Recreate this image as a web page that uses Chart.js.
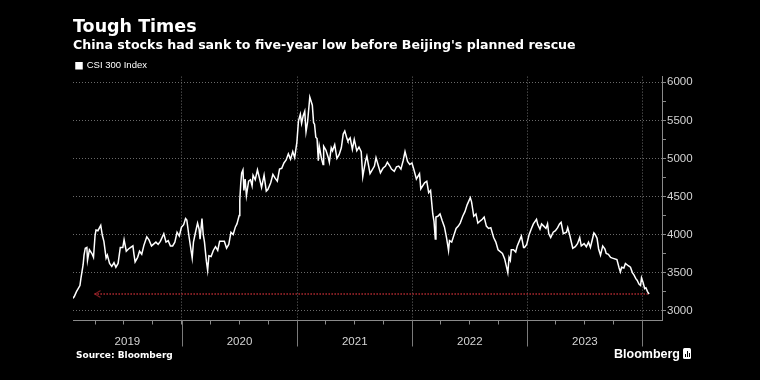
<!DOCTYPE html>
<html><head><meta charset="utf-8">
<script src="https://cdn.jsdelivr.net/npm/chart.js@4.4.1/dist/chart.umd.min.js"></script>
<style>
html,body{margin:0;padding:0;background:#000;}
#wrap{position:relative;width:760px;height:380px;background:#000;overflow:hidden;}
canvas{display:block;}
#source{position:absolute;left:76px;top:349px;font:bold 9px "DejaVu Sans";line-height:12px;color:#fff;white-space:nowrap;}
#logo{position:absolute;left:614px;top:347px;font:bold 12.5px "Liberation Sans";line-height:14px;color:#fff;white-space:nowrap;}
#logo .icon{position:absolute;left:69px;top:1px;width:8px;height:11px;background:#fff;border-radius:1.5px;}
#logo .icon i{position:absolute;bottom:2px;width:1.4px;background:#000;}
</style></head><body>
<div id="wrap"><canvas id="c" width="760" height="380"></canvas>
<div id="source">Source: Bloomberg</div>
<div id="logo">Bloomberg<span class="icon"><i style="left:1.5px;height:3px"></i><i style="left:3.5px;height:6px"></i><i style="left:5.5px;height:4px"></i></span></div>
</div>
<script>
const titleText = 'Tough Times';
const subtitleText = "China stocks had sank to five-year low before Beijing's planned rescue";
const seriesName = 'CSI 300 Index';
const yearLabels = ['2019','2020','2021','2022','2023'];
const yTickValues = [3000,3250,3500,3750,4000,4250,4500,4750,5000,5250,5500,5750,6000];
const xStart = '2019-01-21';
const xEnd = '2024-03-03';
const arrowFrom = '2019-03-30';

const dates = [
'2019-01-21','2019-01-25','2019-02-01','2019-02-12','2019-02-15','2019-02-22','2019-02-25','2019-03-01','2019-03-06','2019-03-08',
'2019-03-14','2019-03-22','2019-03-27','2019-04-01','2019-04-04','2019-04-10','2019-04-19','2019-04-24','2019-04-29','2019-05-06',
'2019-05-10','2019-05-17','2019-05-24','2019-05-31','2019-06-06','2019-06-13','2019-06-20','2019-06-28','2019-07-02','2019-07-09',
'2019-07-16','2019-07-23','2019-07-30','2019-08-02','2019-08-06','2019-08-14','2019-08-20','2019-08-27','2019-09-03','2019-09-12',
'2019-09-19','2019-09-27','2019-10-11','2019-10-18','2019-10-25','2019-11-05','2019-11-12','2019-11-19','2019-11-26','2019-12-03',
'2019-12-10','2019-12-17','2019-12-24','2019-12-31',
'2020-01-07','2020-01-13','2020-01-17','2020-01-23','2020-02-03','2020-02-07','2020-02-12','2020-02-20','2020-02-25','2020-02-28',
'2020-03-05','2020-03-09','2020-03-13','2020-03-19','2020-03-23','2020-03-27','2020-04-03','2020-04-10','2020-04-17','2020-04-24',
'2020-04-30','2020-05-08','2020-05-15','2020-05-22','2020-05-29','2020-06-05','2020-06-12','2020-06-19','2020-06-24','2020-07-01',
'2020-07-03','2020-07-06','2020-07-09','2020-07-13','2020-07-16','2020-07-20','2020-07-24','2020-07-31','2020-08-06','2020-08-11',
'2020-08-14','2020-08-21','2020-08-28','2020-09-04','2020-09-10','2020-09-18','2020-09-25','2020-09-30','2020-10-09','2020-10-16',
'2020-10-23','2020-10-30','2020-11-06','2020-11-13','2020-11-20','2020-11-27','2020-12-04','2020-12-11','2020-12-18','2020-12-24',
'2020-12-31',
'2021-01-05','2021-01-11','2021-01-15','2021-01-20','2021-01-25','2021-01-29','2021-02-03','2021-02-10','2021-02-18','2021-02-22',
'2021-02-25','2021-03-01','2021-03-05','2021-03-09','2021-03-12','2021-03-19','2021-03-24','2021-03-26','2021-04-02','2021-04-09',
'2021-04-13','2021-04-19','2021-04-23','2021-04-30','2021-05-07','2021-05-14','2021-05-21','2021-05-27','2021-06-01','2021-06-08',
'2021-06-11','2021-06-18','2021-06-25','2021-07-01','2021-07-09','2021-07-16','2021-07-23','2021-07-28','2021-07-30','2021-08-06',
'2021-08-10','2021-08-20','2021-08-27','2021-09-03','2021-09-08','2021-09-17','2021-09-22','2021-09-30','2021-10-08','2021-10-14',
'2021-10-22','2021-10-27','2021-11-05','2021-11-12','2021-11-19','2021-11-26','2021-12-03','2021-12-09','2021-12-17','2021-12-24',
'2021-12-31',
'2022-01-07','2022-01-14','2022-01-24','2022-01-28','2022-02-09','2022-02-16','2022-02-22','2022-02-28','2022-03-07','2022-03-11',
'2022-03-15','2022-03-17','2022-03-23','2022-03-30','2022-04-06','2022-04-13','2022-04-20','2022-04-26','2022-04-29','2022-05-06',
'2022-05-13','2022-05-20','2022-05-27','2022-06-02','2022-06-10','2022-06-17','2022-06-24','2022-07-04','2022-07-08','2022-07-15',
'2022-07-22','2022-07-28','2022-08-05','2022-08-11','2022-08-17','2022-08-24','2022-08-31','2022-09-07','2022-09-16','2022-09-23',
'2022-09-30','2022-10-14','2022-10-21','2022-10-31','2022-11-04','2022-11-08','2022-11-11','2022-11-18','2022-11-25','2022-11-30',
'2022-12-07','2022-12-13','2022-12-20','2022-12-23','2022-12-30',
'2023-01-06','2023-01-13','2023-01-20','2023-01-30','2023-02-03','2023-02-10','2023-02-15','2023-02-22','2023-03-01','2023-03-06',
'2023-03-10','2023-03-16','2023-03-24','2023-03-31','2023-04-07','2023-04-13','2023-04-18','2023-04-25','2023-05-05','2023-05-09',
'2023-05-16','2023-05-25','2023-06-02','2023-06-09','2023-06-16','2023-06-21','2023-06-30','2023-07-07','2023-07-14','2023-07-20',
'2023-07-31','2023-08-04','2023-08-10','2023-08-15','2023-08-21','2023-08-28','2023-09-04','2023-09-08','2023-09-15','2023-09-22',
'2023-09-28','2023-10-12','2023-10-19','2023-10-23','2023-10-27','2023-11-03','2023-11-08','2023-11-17','2023-11-24','2023-11-30',
'2023-12-05','2023-12-11','2023-12-15','2023-12-21','2023-12-26','2023-12-29',
'2024-01-03','2024-01-08','2024-01-12','2024-01-17','2024-01-22'
];
const values = [
3160,3185,3250,3330,3420,3600,3730,3820,3830,3660,
3800,3750,3700,3990,4060,4050,4120,3990,3910,3690,
3730,3620,3580,3630,3570,3620,3830,3830,3930,3780,
3810,3830,3850,3750,3640,3700,3780,3740,3860,3970,
3930,3850,3900,3870,3910,4010,3900,3920,3850,3850,
3900,4030,3980,4096,
4130,4210,4190,4000,3690,3900,4000,4150,4070,3940,
4210,4000,3900,3650,3530,3720,3710,3790,3840,3790,
3910,3910,3910,3820,3870,4030,4000,4100,4140,4250,
4450,4670,4810,4850,4580,4730,4510,4700,4720,4640,
4780,4720,4850,4730,4620,4780,4570,4590,4680,4790,
4740,4700,4860,4870,4940,4980,5060,4990,5090,5010,
5211,
5490,5580,5460,5560,5620,5350,5480,5807,5700,5470,
5450,5280,5260,4970,5160,5000,4920,5160,5110,5020,
4950,5140,5100,5180,5000,5050,5140,5320,5360,5260,
5230,5270,5120,5250,5100,5150,5090,4760,4810,4970,
5030,4800,4850,4900,5010,4880,4810,4870,4900,4950,
4900,4860,4830,4890,4900,4860,4970,5090,4960,4920,
4940,
4840,4730,4800,4600,4680,4700,4550,4580,4270,4170,
3940,4230,4240,4270,4180,4100,3950,3790,3920,3900,
3990,4080,4110,4150,4240,4300,4390,4485,4430,4240,
4270,4150,4180,4200,4230,4110,4080,4090,3960,3900,
3800,3750,3680,3500,3700,3660,3800,3800,3770,3850,
3920,3980,3830,3830,3870,
3990,4070,4140,4200,4130,4070,4140,4110,4080,4140,
4010,3960,4030,4050,4090,4140,4160,4010,4030,4090,
3980,3820,3840,3880,3960,3850,3880,3840,3900,3830,
4020,4000,3950,3810,3730,3850,3810,3750,3740,3700,
3690,3670,3560,3510,3570,3560,3620,3590,3570,3500,
3470,3420,3400,3350,3330,3431,
3370,3290,3300,3250,3218
];

const DAY0 = Date.UTC(2019,0,1);
const day = s => (Date.parse(s + 'T00:00:00Z') - DAY0) / 864e5;
const xMin = day(xStart), xMax = day(xEnd);
const yearStarts = [2019,2020,2021,2022,2023,2024].map(y => day(y + '-01-01'));
const quarterStarts = [];
[2019,2020,2021,2022,2023,2024].forEach(y => ['01','04','07','10'].forEach(m => {
  const d = day(y + '-' + m + '-01'); if (d >= xMin && d <= xMax) quarterStarts.push(d);
}));
const labelPos = {};
yearLabels.forEach(lbl => {
  const a = Math.max(day(lbl + '-01-01'), xMin), b = Math.min(day((+lbl + 1) + '-01-01'), xMax);
  labelPos[(a + b) / 2] = lbl;
});
const isYearStart = v => yearStarts.includes(v);
const isLabel = v => labelPos[v] !== undefined;

const lastVal = values[values.length - 1];
const lastDay = day(dates[dates.length - 1]);

// chevron arrowhead image (tip at image centre)
const chev = document.createElement('canvas');
chev.width = 16; chev.height = 10;
(function(){ const c = chev.getContext('2d'); c.strokeStyle = '#b02a31'; c.lineWidth = 1;
  c.beginPath(); c.moveTo(14, 1.5); c.lineTo(8.5, 5); c.lineTo(14, 8.5); c.stroke(); })();

const yearLinesPlugin = {
  id: 'yearLines',
  afterDraw(chart) {
    const xs = chart.scales.x, ca = chart.chartArea, ctx = chart.ctx;
    ctx.save(); ctx.strokeStyle = '#7a7a7a'; ctx.lineWidth = 1;
    yearStarts.forEach(v => {
      if (v < xs.min || v > xs.max) return;
      const px = Math.round(xs.getPixelForValue(v)) + 0.5;
      ctx.beginPath(); ctx.moveTo(px, ca.bottom); ctx.lineTo(px, ca.bottom + 26); ctx.stroke();
    });
    ctx.restore();
  }
};
const legendTrimPlugin = {
  id: 'legendTrim',
  beforeUpdate(chart) {
    const lg = chart.legend;
    if (lg && !lg.__trim) {
      const f = lg.fit;
      lg.fit = function(){ f.call(this); this.height = Math.max(0, this.height - 4); };
      lg.__trim = true;
    }
  }
};

new Chart(document.getElementById('c'), {
  type: 'line',
  data: {
    datasets: [
      { label: seriesName, data: dates.map((d, i) => ({x: day(d), y: values[i]})),
        borderColor: '#ffffff', backgroundColor: '#ffffff', borderWidth: 1.5, pointRadius: 0, tension: 0 },
      { label: 'low', data: [{x: day(arrowFrom), y: lastVal}, {x: lastDay, y: lastVal}],
        borderColor: '#b02a31', borderWidth: 1.5, borderDash: [1.5, 1.5], tension: 0,
        pointStyle: chev, pointRadius: [5, 0], pointHoverRadius: 0 }
    ]
  },
  options: {
    responsive: false, animation: false, devicePixelRatio: 1,
    layout: { padding: { left: 73, right: 0, top: 0, bottom: 0 } },
    plugins: {
      tooltip: { enabled: false },
      title: { display: true, text: titleText, align: 'start', color: '#ffffff',
        font: { family: 'DejaVu Sans', size: 17.5, weight: 'bold', lineHeight: 1.2 }, padding: { top: 17, bottom: 0 } },
      subtitle: { display: true, text: subtitleText, align: 'start', color: '#ffffff',
        font: { family: 'DejaVu Sans', size: 12.6, weight: 'bold', lineHeight: 1.2 }, padding: { top: 0, bottom: 5 } },
      legend: { display: true, position: 'top', align: 'start',
        labels: { color: '#ffffff', font: { family: 'Liberation Sans', size: 9.5 }, boxWidth: 6, boxHeight: 6, padding: 3,
          filter: item => item.datasetIndex === 0 } }
    },
    scales: {
      x: {
        type: 'linear', min: xMin, max: xMax, position: 'bottom',
        afterBuildTicks: s => { s.ticks = quarterStarts.concat(Object.keys(labelPos).map(Number)).sort((a, b) => a - b).map(v => ({value: v})); },
        afterFit: s => { s.height = 59.5; },
        ticks: { autoSkip: false, maxRotation: 0, minRotation: 0, padding: 10, color: '#d4d4d4',
          font: { family: 'Liberation Sans', size: 11.5 },
          callback: v => labelPos[v] !== undefined ? labelPos[v] : '' },
        grid: { display: true, drawOnChartArea: true, drawTicks: true, tickLength: 4, tickBorderDash: [],
          color: c => (c.tick && isYearStart(c.tick.value)) ? '#6a6a6a' : 'rgba(0,0,0,0)',
          tickColor: c => (c.tick && isLabel(c.tick.value)) ? 'rgba(0,0,0,0)' : '#8a8a8a' },
        border: { display: true, color: '#8a8a8a', width: 1, dash: [1, 2] }
      },
      y: {
        type: 'linear', position: 'right', min: 2870, max: 6075,
        afterBuildTicks: s => { s.ticks = yTickValues.map(v => ({value: v})); },
        afterFit: s => { s.width = 98; },
        ticks: { autoSkip: false, padding: 1, color: '#d4d4d4', font: { family: 'Liberation Sans', size: 11.5 },
          callback: v => v % 500 === 0 ? String(v) : '' },
        grid: { display: true, drawOnChartArea: true, drawTicks: true, tickLength: 4, tickBorderDash: [],
          color: c => (c.tick && c.tick.value % 500 === 0) ? '#6a6a6a' : 'rgba(0,0,0,0)',
          tickColor: '#8a8a8a' },
        border: { display: true, color: '#8a8a8a', width: 1, dash: [1, 2] }
      }
    }
  },
  plugins: [yearLinesPlugin, legendTrimPlugin]
});
</script>
</body></html>
